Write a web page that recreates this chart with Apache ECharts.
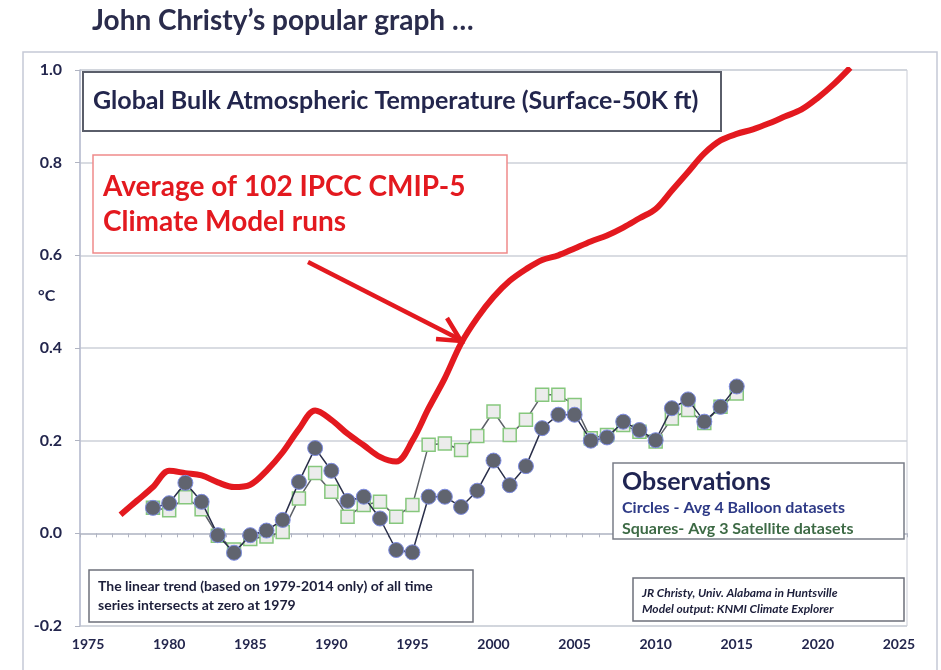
<!DOCTYPE html>
<html lang="en">
<head>
    <meta charset="UTF-8" />
    <title>John Christy's popular graph</title>
    <script src="https://cdn.jsdelivr.net/npm/echarts@6/dist/echarts.min.js"></script>
    <style>
        html, body { margin: 0; padding: 0; background: #fff; }
        #main { width: 941px; height: 670px; }
    </style>
</head>
<body>
    <div id="main"></div>
    <script>
        // model average (red line), one value per year
        var modelYears = [1977, 1978, 1979, 1980, 1981, 1982, 1983, 1984, 1985, 1986,
            1987, 1988, 1989, 1990, 1991, 1992, 1993, 1994, 1995, 1996,
            1997, 1998, 1999, 2000, 2001, 2002, 2003, 2004, 2005, 2006,
            2007, 2008, 2009, 2010, 2011, 2012, 2013, 2014, 2015, 2016,
            2017, 2018, 2019, 2020, 2021, 2022];
        var modelValues = [0.040, 0.070, 0.100, 0.135, 0.130, 0.125, 0.110, 0.100, 0.105, 0.135,
            0.175, 0.225, 0.265, 0.245, 0.215, 0.190, 0.165, 0.155, 0.200, 0.270,
            0.335, 0.410, 0.465, 0.510, 0.545, 0.570, 0.590, 0.600, 0.615, 0.630,
            0.643, 0.660, 0.680, 0.700, 0.740, 0.780, 0.820, 0.848, 0.862, 0.872,
            0.885, 0.900, 0.915, 0.940, 0.970, 1.005];

        // observations 1979-2015
        var obsYears = [1979, 1980, 1981, 1982, 1983, 1984, 1985, 1986, 1987, 1988,
            1989, 1990, 1991, 1992, 1993, 1994, 1995, 1996, 1997, 1998,
            1999, 2000, 2001, 2002, 2003, 2004, 2005, 2006, 2007, 2008,
            2009, 2010, 2011, 2012, 2013, 2014, 2015];
        var balloonValues = [0.055, 0.065, 0.109, 0.068, -0.004, -0.042, -0.004, 0.006, 0.029, 0.111,
            0.184, 0.135, 0.070, 0.079, 0.032, -0.036, -0.041, 0.079, 0.079, 0.057,
            0.092, 0.157, 0.104, 0.145, 0.227, 0.256, 0.256, 0.200, 0.207, 0.241,
            0.223, 0.201, 0.270, 0.289, 0.241, 0.273, 0.317];
        var satelliteValues = [0.055, 0.050, 0.078, 0.052, -0.005, -0.035, -0.012, -0.007, 0.003, 0.075,
            0.130, 0.090, 0.036, 0.061, 0.068, 0.036, 0.061, 0.191, 0.194, 0.180,
            0.210, 0.263, 0.212, 0.245, 0.299, 0.299, 0.277, 0.205, 0.212, 0.234,
            0.219, 0.198, 0.248, 0.266, 0.238, 0.273, 0.302];

        var xLabelYears = [1975, 1980, 1985, 1990, 1995, 2000, 2005, 2010, 2015, 2020, 2025];

        function pairs(xs, ys) {
            return xs.map(function (x, i) { return [x, ys[i]]; });
        }
        // excel-style ticks between the years
        var xTickPos = [];
        for (var t = 1974.5; t <= 2025.5; t += 1) xTickPos.push(t);

        var navy = '#23264d';
        var font = 'Lato';

        var myChart = echarts.init(document.getElementById('main'));
        myChart.setOption({
            animation: false,
            backgroundColor: '#ffffff',
            grid: {
                left: 80, right: 34, top: 70, bottom: 44,
                show: true, borderColor: '#c9ccd6', borderWidth: 1
            },
            xAxis: {
                type: 'value',
                min: 1974.5,
                max: 2025.5,
                axisLine: { lineStyle: { color: '#b9bdca', width: 1.5 } },
                axisTick: { customValues: xTickPos, length: 4, inside: false, lineStyle: { color: '#b0b4c2' } },
                axisLabel: {
                    customValues: xLabelYears,
                    color: navy, fontFamily: font, fontWeight: 'bold', fontSize: 14, margin: 11,
                    formatter: function (v) { return String(v); }
                },
                splitLine: { show: false }
            },
            yAxis: {
                type: 'value',
                min: -0.2,
                max: 1.0,
                interval: 0.2,
                axisLine: { show: true, lineStyle: { color: '#b9bdd0', width: 1.5 } },
                axisTick: { show: true, length: 5, lineStyle: { color: '#b0b4c2' } },
                axisLabel: {
                    color: navy, fontFamily: font, fontWeight: 'bold', fontSize: 16, margin: 18,
                    formatter: function (v) { return v.toFixed(1); }
                },
                splitLine: { lineStyle: { color: '#cdd0d8', width: 1.5 } }
            },
            graphic: [
                // outer frame
                { type: 'rect', z: -1, shape: { x: 23, y: 52, width: 914, height: 640 },
                  style: { fill: 'none', stroke: '#c5c9d6', lineWidth: 1.5 } },
                { type: 'text', x: 92, y: 21, z: 100,
                  style: { text: 'John Christy\u2019s popular graph \u2026', fill: '#2a2c4c',
                           font: 'bold 28px Lato', verticalAlign: 'middle' } },
                { type: 'text', x: 38, y: 296, z: 100,
                  style: { text: '\u00b0C', fill: navy, font: 'bold 16px Lato', verticalAlign: 'middle' } },

                // title box
                { type: 'rect', z: 100, shape: { x: 83, y: 72, width: 638, height: 59 },
                  style: { fill: '#fff', stroke: '#5a5e6a', lineWidth: 2 } },
                { type: 'text', x: 93, y: 101, z: 101,
                  style: { text: 'Global Bulk Atmospheric Temperature (Surface-50K ft)', fill: navy,
                           font: 'bold 25px Lato', verticalAlign: 'middle' } },

                // red annotation
                { type: 'rect', z: 100, shape: { x: 93, y: 155, width: 414, height: 98 },
                  style: { fill: '#fff', stroke: '#ef8a8a', lineWidth: 1.5 } },
                { type: 'text', x: 103, y: 187, z: 101,
                  style: { text: 'Average of 102 IPCC CMIP-5', fill: '#e3191f',
                           font: 'bold 28px Lato', verticalAlign: 'middle' } },
                { type: 'text', x: 103, y: 222, z: 101,
                  style: { text: 'Climate Model runs', fill: '#e3191f',
                           font: 'bold 28px Lato', verticalAlign: 'middle' } },
                { type: 'line', z: 101, shape: { x1: 308, y1: 262, x2: 459, y2: 339 },
                  style: { stroke: '#e3191f', lineWidth: 4.5 } },
                { type: 'polyline', z: 101, shape: { points: [[436, 339], [461, 341], [447, 318]] },
                  style: { stroke: '#e3191f', lineWidth: 4.5, fill: 'none' } },

                // observations legend
                { type: 'rect', z: 100, shape: { x: 613, y: 463, width: 291, height: 76 },
                  style: { fill: '#fff', stroke: '#7a7d88', lineWidth: 1.5 } },
                { type: 'text', x: 622, y: 482, z: 101,
                  style: { text: 'Observations', fill: '#1f2452', font: 'bold 25px Lato', verticalAlign: 'middle' } },
                { type: 'text', x: 622, y: 508, z: 101,
                  style: { text: 'Circles - Avg 4 Balloon datasets', fill: '#2e3a86', font: 'bold 16px Lato', verticalAlign: 'middle' } },
                { type: 'text', x: 622, y: 529, z: 101,
                  style: { text: 'Squares- Avg 3 Satellite datasets', fill: '#3d6a45', font: 'bold 16px Lato', verticalAlign: 'middle' } },

                // notes
                { type: 'rect', z: 100, shape: { x: 89, y: 570, width: 384, height: 52 },
                  style: { fill: '#fff', stroke: '#6d707b', lineWidth: 1.5 } },
                { type: 'text', x: 98, y: 586, z: 101,
                  style: { text: 'The linear trend (based on 1979-2014 only) of all time', fill: '#1c1e3a',
                           font: 'bold 14px Lato', verticalAlign: 'middle' } },
                { type: 'text', x: 98, y: 605, z: 101,
                  style: { text: 'series intersects at zero at 1979', fill: '#1c1e3a',
                           font: 'bold 14px Lato', verticalAlign: 'middle' } },
                { type: 'rect', z: 100, shape: { x: 633, y: 578, width: 271, height: 43 },
                  style: { fill: '#fff', stroke: '#6d707b', lineWidth: 1.5 } },
                { type: 'text', x: 642, y: 593, z: 101,
                  style: { text: 'JR Christy, Univ. Alabama in Huntsville', fill: '#1c1e3a',
                           font: 'italic bold 12px Lato', verticalAlign: 'middle' } },
                { type: 'text', x: 642, y: 609, z: 101,
                  style: { text: 'Model output: KNMI Climate Explorer', fill: '#1c1e3a',
                           font: 'italic bold 12px Lato', verticalAlign: 'middle' } }
            ],
            series: [
                {
                    name: 'Model average',
                    type: 'line',
                    data: pairs(modelYears, modelValues),
                    smooth: 0.35,
                    showSymbol: false,
                    clip: true,
                    lineStyle: { color: '#e3191f', width: 6 },
                    z: 2
                },
                {
                    name: 'Satellite',
                    type: 'line',
                    data: pairs(obsYears, satelliteValues),
                    symbol: 'rect',
                    symbolSize: 13,
                    lineStyle: { color: '#5d6168', width: 1.5 },
                    itemStyle: { color: '#ececec', borderColor: '#86c77d', borderWidth: 1.5 },
                    z: 3
                },
                {
                    name: 'Balloon',
                    type: 'line',
                    data: pairs(obsYears, balloonValues),
                    symbol: 'circle',
                    symbolSize: 15,
                    lineStyle: { color: '#2a2f4a', width: 1.5 },
                    itemStyle: { color: '#60646f', borderColor: '#7d8be0', borderWidth: 1 },
                    z: 4
                }
            ]
        });
    </script>
</body>
</html>
